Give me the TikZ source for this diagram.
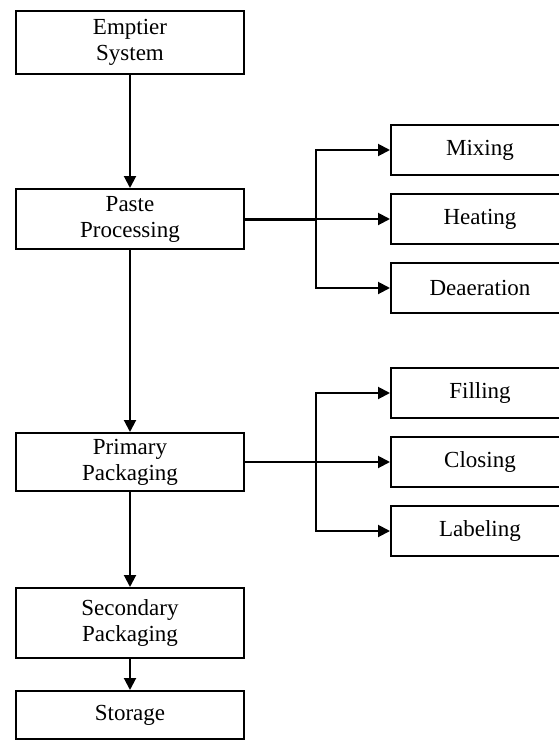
\documentclass[tikz,border=0pt]{standalone}
\usepackage{fontspec}
\setmainfont{Liberation Serif}
\usetikzlibrary{arrows.meta,positioning}

\begin{document}
\begin{tikzpicture}[
  node distance=8.5pt and 72.5pt,
  box/.style={rectangle,draw,line width=1pt,minimum width=114pt,align=center,inner sep=2pt,font=\fontsize{11.5}{13}\selectfont},
  sub/.style={box,minimum width=89pt,minimum height=25pt},
  arr/.style={-{Triangle[length=6pt,width=6pt]},line width=1pt},
]
% main column
\node[box,minimum height=31.5pt] (emptier) {Emptier\\System};
\node[box,minimum height=30pt,below=56.5pt of emptier] (paste) {Paste\\Processing};
\node[box,minimum height=29pt,below=91pt of paste] (primary) {Primary\\Packaging};
\node[box,minimum height=35pt,below=47.5pt of primary] (secondary) {Secondary\\Packaging};
\node[box,minimum height=24pt,below=15.5pt of secondary] (storage) {Storage};

% paste processing steps
\node[sub,right=of paste] (heating) {Heating};
\node[sub,above=of heating] (mixing) {Mixing};
\node[sub,below=of heating] (deaeration) {Deaeration};

% primary packaging steps
\node[sub,right=of primary] (closing) {Closing};
\node[sub,above=of closing] (filling) {Filling};
\node[sub,below=of closing] (labeling) {Labeling};

\draw[arr] (emptier) -- (paste);
\draw[arr] (paste) -- (primary);
\draw[arr] (primary) -- (secondary);
\draw[arr] (secondary) -- (storage);

\coordinate[right=35.5pt of paste.east] (pj);
\draw[line width=1.5pt] (paste) -- (pj);
\draw[arr] (pj) |- (mixing);
\draw[arr] (pj) -- (heating);
\draw[arr] (pj) |- (deaeration);

\coordinate[right=35.5pt of primary.east] (kj);
\draw[line width=1pt] (primary) -- (kj);
\draw[arr] (kj) |- (filling);
\draw[arr] (kj) -- (closing);
\draw[arr] (kj) |- (labeling);

\pgfresetboundingbox
\useasboundingbox ([shift={(-7.5pt,5pt)}]emptier.north west) rectangle ++(279pt,-370pt);
\end{tikzpicture}
\end{document}
